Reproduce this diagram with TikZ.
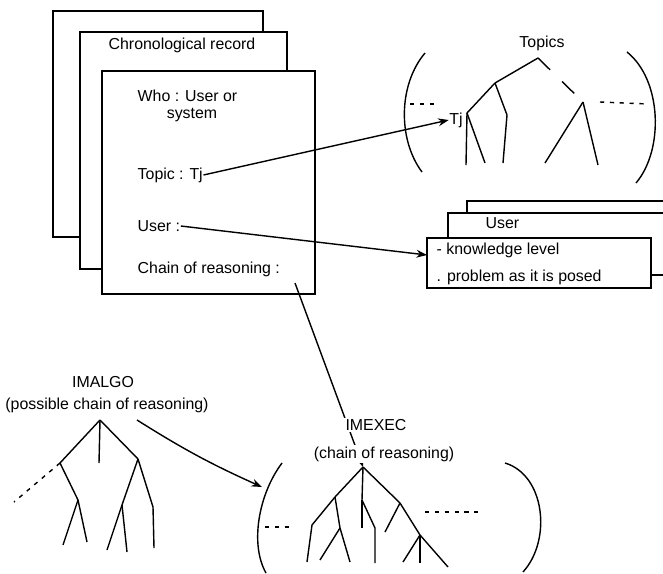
\documentclass[tikz,border=0pt]{standalone}
\usepackage{fontspec}
\setmainfont{Liberation Sans}
\usetikzlibrary{
  arrows.meta
}

\begin{document}
\begin{tikzpicture}[>=Stealth, x=0.025cm, y=-0.025cm, line width=1pt,
  txt/.style={inner sep=0pt, font=\fontsize{11.3}{13}\selectfont},
  sheet/.style={draw, fill=white, line width=1.1pt},
  gap/.style={dash pattern=on 3pt off 4pt},
  longgap/.style={dash pattern=on 12pt off 12pt}]

\useasboundingbox (0,0) rectangle (663,573);

%--------------------
% 記録シート
%--------------------
\draw[sheet] (53,11) rectangle (263,237);
\draw[sheet] (80,32) rectangle (287,269);
\draw[sheet] (102,71) rectangle (315,294);

\node[txt] (rec) at (182,45) {Chronological record};
\node[txt, anchor=west] (who) at (137,96) {Who : User or};
\node[txt] (sys) at (192,115) {system};
\node[txt, anchor=west] (topic) at (137,175) {Topic : Tj};
\node[txt, anchor=west] (user) at (137,226) {User :};
\node[txt, anchor=west] (chain) at (137,269) {Chain of reasoning :};

%--------------------
% Topics
%--------------------
\node[txt] (topics) at (542,43) {Topics};

% 括弧
\draw (425,53) .. controls (398,85) and (398,140) .. (422,172);
\draw (627,52) .. controls (662,80) and (664,150) .. (636,183);

% 木
\coordinate (t0) at (538,58);
\coordinate (t1) at (495,83);
\coordinate (t2) at (583,102);
\coordinate (ttj) at (467,113);
\coordinate (t3) at (507,115);

\node[txt] (tjlbl) at (456,120) {Tj};

\draw (t0) -- (t1);
\draw[longgap] (t0) -- (t2);
\draw (t1) -- (ttj);
\draw (t1) -- (t3) -- (503,163);
\draw (ttj) -- (466,165);
\draw (ttj) -- (485,163);
\draw (t2) -- (545,163);
\draw (t2) -- (598,165);

\draw[gap] (410,104) -- (437,104);
\draw[gap] (600,102) -- (648,104);

%--------------------
% User
%--------------------
\draw[sheet] (467,201) rectangle (700,262);
\draw[sheet] (448,213) rectangle (700,275);
\draw[sheet] (427,238) rectangle (651,288);

\node[txt, anchor=west] (ulbl) at (485,223) {User};
\node[txt, anchor=west] (know) at (436,250) {- knowledge level};
\node[txt, anchor=west] (prob) at (436,277) {. problem as it is posed};

\coordinate (uin) at (427,255);

%--------------------
% IMALGO
%--------------------
\node[txt] (algo) at (103,382) {IMALGO};
\node[txt] (algo2) at (107,405) {(possible chain of reasoning)};

\coordinate (a0) at (100,420);
\coordinate (a1) at (60,463);
\coordinate (a2) at (99,463);
\coordinate (a3) at (138,459);
\coordinate (a4) at (78,500);
\coordinate (a5) at (122,505);
\coordinate (a6) at (153,507);

\draw (a0) -- (a1);
\draw (a0) -- (a2);
\draw (a0) -- (a3);
\draw[gap] (a1) -- (14,502);
\draw (a1) -- (a4);
\draw (a4) -- (63,545);
\draw (a4) -- (87,542);
\draw (a3) -- (a5);
\draw (a3) -- (a6);
\draw (a5) -- (107,550);
\draw (a5) -- (127,552);
\draw (a6) -- (154,548);

%--------------------
% IMEXEC
%--------------------
\coordinate (cstart) at (295,283);
\coordinate (x0) at (363,467);

% 推論の連鎖へ
\draw[->] (cstart) -- (x0);

\node[txt, fill=white, inner sep=1pt] (exec) at (376,425) {IMEXEC};
\node[txt, fill=white, inner sep=1pt] (exec2) at (384,454) {(chain of reasoning)};

% 括弧
\draw (282,463) .. controls (258,495) and (250,545) .. (266,573);
\draw (505,463) .. controls (545,475) and (552,540) .. (523,572);

% 木
\coordinate (x1) at (335,497);
\coordinate (x2) at (362,500);
\coordinate (x3) at (400,503);
\coordinate (x4) at (312,525);
\coordinate (x5) at (340,528);
\coordinate (x6) at (375,528);
\coordinate (x7) at (420,535);

\draw (x0) -- (x1);
\draw (x0) -- (x2);
\draw (x0) -- (x3);
\draw (x1) -- (x4) -- (307,562);
\draw (x1) -- (x5);
\draw (x5) -- (350,562);
\draw (x5) -- (320,560);
\draw (x2) -- (362,528);
\draw (x2) -- (x6) -- (375,563);
\draw (x3) -- (385,532);
\draw (x3) -- (x7);
\draw (x7) -- (403,562);
\draw (x7) -- (420,563);
\draw (x7) -- (448,567);

\draw[gap] (265,527) -- (293,527);
\draw[gap] (425,512) -- (478,512);

\coordinate (xin) at (262,487);

%--------------------
% 参照の矢印
%--------------------
\draw[->] (topic.east) -- (tjlbl.west);
\draw[->] (user.east) -- (uin);
\coordinate (astart) at (137,420);
\draw[->] (astart) to[bend right=4] (xin);

\end{tikzpicture}
\end{document}
